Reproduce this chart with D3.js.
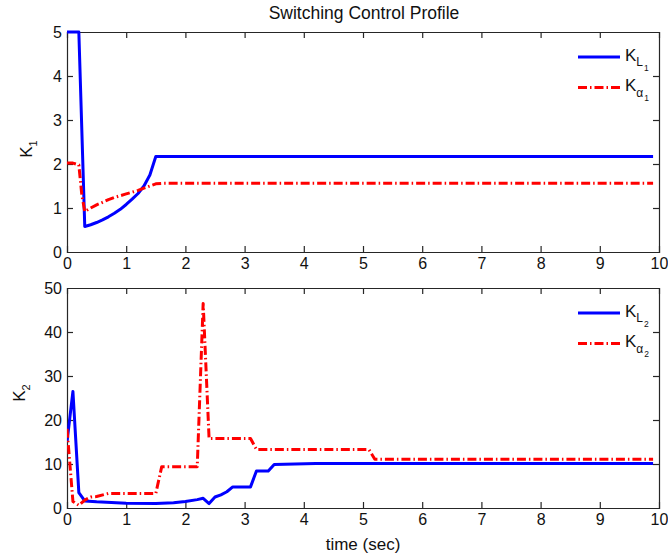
<!DOCTYPE html>
<html>
<head>
<meta charset="utf-8">
<script src="https://cdn.jsdelivr.net/npm/d3@7"></script>
<style>
  html, body { margin: 0; padding: 0; background: #fff; }
  svg { display: block; font-family: "Liberation Sans", Arial, sans-serif; }
</style>
</head>
<body>
<svg id="chart" width="668" height="556"></svg>
<script>
// Time grid and tick values
const xTicks = [0, 1, 2, 3, 4, 5, 6, 7, 8, 9, 10];
const k1Ticks = [0, 1, 2, 3, 4, 5];
const k2Ticks = [0, 10, 20, 30, 40, 50];

// K1 gains: [time (sec), value]
const kL1 = [[0, 5], [0.2, 5], [0.3, 0.58], [0.4, 0.62], [0.5, 0.67], [0.6, 0.73], [0.7, 0.8],
  [0.8, 0.88], [0.9, 0.97], [1.0, 1.08], [1.1, 1.2], [1.2, 1.33], [1.3, 1.5], [1.4, 1.75],
  [1.5, 2.17], [3.0, 2.17], [9.9, 2.17]];
const kA1 = [[0, 2.02], [0.1, 2.02], [0.2, 1.98], [0.25, 1.3], [0.3, 0.92], [0.4, 1.0], [0.5, 1.07],
  [0.6, 1.13], [0.7, 1.19], [0.8, 1.24], [0.9, 1.28], [1.0, 1.32], [1.1, 1.36], [1.2, 1.4],
  [1.3, 1.45], [1.4, 1.5], [1.5, 1.55], [1.6, 1.56], [9.9, 1.56]];

// K2 gains: [time (sec), value]
const kL2 = [[0, 15], [0.1, 26.5], [0.2, 3.5], [0.3, 1.6], [0.5, 1.4], [1.0, 1.1], [1.5, 1.0],
  [1.8, 1.2], [2.0, 1.5], [2.2, 1.9], [2.3, 2.2], [2.4, 1.0], [2.5, 2.5], [2.6, 3.0], [2.7, 3.7],
  [2.8, 4.8], [3.1, 4.8], [3.2, 8.4], [3.4, 8.4], [3.5, 9.9], [4.2, 10.1], [9.9, 10.1]];
const kA2 = [[0, 18], [0.1, 1.5], [0.2, 0.6], [0.3, 1.8], [0.4, 2.5], [0.5, 2.6], [0.7, 3.3],
  [1.5, 3.3], [1.6, 9.4], [2.2, 9.4], [2.3, 46.5], [2.4, 15.8], [3.1, 15.8], [3.2, 13.3],
  [5.1, 13.3], [5.2, 11.1], [9.9, 11.1]];

const BLUE = "#0000ff", RED = "#ff0000", AXIS = "#262626", INK = "#111";
const svg = d3.select("#chart");
const left = 67, right = 659;

const x = d3.scaleLinear().domain([0, 10]).range([left, right]);

svg.append("text")
  .attr("x", (left + right) / 2 + 1).attr("y", 19)
  .attr("text-anchor", "middle").attr("font-size", 17.5).attr("fill", INK)
  .text("Switching Control Profile");

function panel(id, top, bottom, yMax, yTicks, series, sub, yLabelX, yLabelY) {
  const y = d3.scaleLinear().domain([0, yMax]).range([bottom, top]);
  const g = svg.append("g");

  // axes with inward ticks on all four sides
  const tick = -6;
  const axB = g.append("g").attr("transform", `translate(0,${bottom})`)
    .call(d3.axisBottom(x).tickValues(xTicks).tickSize(tick).tickPadding(6).tickFormat(d3.format("d")));
  const axT = g.append("g").attr("transform", `translate(0,${top})`)
    .call(d3.axisTop(x).tickValues(xTicks).tickSize(tick).tickFormat(""));
  const axL = g.append("g").attr("transform", `translate(${left},0)`)
    .call(d3.axisLeft(y).tickValues(yTicks).tickSize(tick).tickPadding(5).tickFormat(d3.format("d")));
  const axR = g.append("g").attr("transform", `translate(${right},0)`)
    .call(d3.axisRight(y).tickValues(yTicks).tickSize(tick).tickFormat(""));
  [axB, axT, axL, axR].forEach(a => {
    a.select(".domain").attr("stroke", AXIS).attr("stroke-width", 1.2);
    a.selectAll(".tick line").attr("stroke", AXIS).attr("stroke-width", 1.2);
    a.selectAll(".tick text").attr("font-size", 16).attr("fill", INK)
      .attr("font-family", "Liberation Sans, Arial, sans-serif");
  });
  // drop end ticks that sit on the frame corners
  [axB, axT].forEach(a => a.selectAll(".tick line").filter(d => d === 0 || d === 10).remove());
  [axL, axR].forEach(a => a.selectAll(".tick line").filter(d => d === 0 || d === yMax).remove());

  // data lines, drawn over the frame and clipped to the axes box
  g.append("clipPath").attr("id", "clip" + id)
    .append("rect").attr("x", left).attr("y", top - 2)
    .attr("width", right - left).attr("height", bottom - top + 2);

  const line = d3.line().x(d => x(d[0])).y(d => y(d[1]));
  const plot = g.append("g").attr("clip-path", `url(#clip${id})`);
  series.forEach(s => {
    plot.append("path").datum(s.data)
      .attr("d", line).attr("fill", "none")
      .attr("stroke", s.color).attr("stroke-width", 3)
      .attr("stroke-linejoin", "round")
      .attr("stroke-dasharray", s.dash || null);
  });

  // y label K with subscript
  const yl = g.append("text")
    .attr("transform", `translate(${yLabelX},${yLabelY}) rotate(-90)`)
    .attr("text-anchor", "middle").attr("fill", INK).attr("font-size", 17);
  yl.append("tspan").text("K");
  yl.append("tspan").attr("font-size", 11).attr("dy", 5).text(sub);

  // legend
  const lg = g.append("g");
  series.forEach((s, i) => {
    const ly = top + 25 + i * 30.5;
    lg.append("line").attr("x1", 578).attr("x2", 620).attr("y1", ly).attr("y2", ly)
      .attr("stroke", s.color).attr("stroke-width", 3)
      .attr("stroke-dasharray", s.dash || null);
    const t = lg.append("text").attr("x", 625).attr("y", ly + 3.5)
      .attr("fill", INK).attr("font-size", 17);
    t.append("tspan").text("K");
    t.append("tspan").attr("font-size", 12).attr("dy", 5.5).text(s.sym);
    t.append("tspan").attr("font-size", 8.5).attr("dy", 4.5).attr("dx", 1).text(sub);
  });
  return y;
}

panel(1, 32, 252, 5, k1Ticks, [
  { data: kL1, color: BLUE, sym: "L" },
  { data: kA1, color: RED, dash: "9,3,1.5,3", sym: "\u03b1" }
], "1", 32, 149);

panel(2, 288, 508, 50, k2Ticks, [
  { data: kL2, color: BLUE, sym: "L" },
  { data: kA2, color: RED, dash: "9,3,1.5,3", sym: "\u03b1" }
], "2", 25, 393);

svg.append("text")
  .attr("x", (left + right) / 2).attr("y", 550)
  .attr("text-anchor", "middle").attr("font-size", 17).attr("fill", INK)
  .text("time (sec)");
</script>
</body>
</html>
